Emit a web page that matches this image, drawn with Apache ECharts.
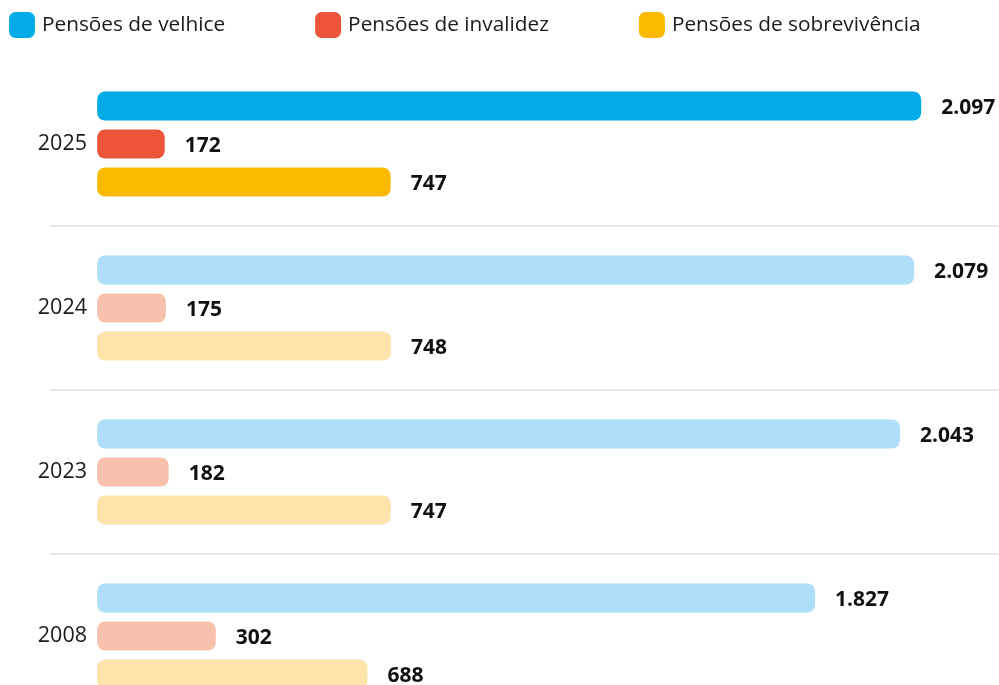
<!DOCTYPE html>
<html>
<head>
<meta charset="utf-8">
<script src="https://cdn.jsdelivr.net/npm/echarts@6/dist/echarts.min.js"></script>
<style>
  html, body { margin: 0; padding: 0; background: #fff; overflow: hidden; }
  #chart { width: 999px; height: 720px; }
</style>
</head>
<body>
<div id="chart"></div>
<script>
const categories = ['2025', '2024', '2023', '2008'];
const velhice = [2097, 2079, 2043, 1827];
const invalidez = [172, 175, 182, 302];
const sobrevivencia = [747, 748, 747, 688];
const seriesNames = ['Pensões de velhice', 'Pensões de invalidez', 'Pensões de sobrevivência'];

const strong = ['#00ABE7', '#EC553A', '#FBBA00'];
const light = ['#AEDEF9', '#F8C1AE', '#FEE3AB'];

function fmt(v) {
  return String(v).replace(/\B(?=(\d{3})+(?!\d))/g, '.');
}

function makeData(values, idx) {
  return values.map((v, i) => ({
    value: v,
    itemStyle: { color: i === 0 ? strong[idx] : light[idx] }
  }));
}

const FONT = '"Open Sans", "Noto Sans", sans-serif';
const chart = echarts.init(document.getElementById('chart'), null, { renderer: 'canvas' });

const allValues = [velhice, invalidez, sobrevivencia];
chart.setOption({
  animation: false,
  textStyle: { fontFamily: FONT },
  legend: {
    left: 4,
    top: 7,
    itemWidth: 26,
    itemHeight: 26,
    itemGap: 90,
    icon: 'roundRect',
    textStyle: { fontFamily: FONT, fontSize: 20.8, color: '#1a1a1a', padding: [2, 0, 0, 2] },
    data: seriesNames
  },
  grid: { left: 50, right: 0, top: 62, height: 656, containLabel: false, outerBoundsMode: 'none' },
  xAxis: {
    type: 'value',
    min: -120,
    max: 2295,
    show: false
  },
  yAxis: {
    type: 'category',
    inverse: true,
    data: categories,
    axisLine: { show: false },
    axisTick: { show: false },
    axisLabel: { fontFamily: FONT, fontSize: 21.5, color: '#1a1a1a', margin: -37, padding: [4, 0, 0, 0] },
    splitLine: { show: true, showMinLine: false, showMaxLine: false, lineStyle: { color: '#e2e2e2', width: 1.5 } }
  },
  series: seriesNames.map((name, idx) => ({
    name: name,
    type: 'bar',
    barWidth: 29,
    barGap: '31%',
    itemStyle: { color: strong[idx], borderRadius: 8 },
    label: {
      show: true,
      position: 'right',
      distance: 20,
      offset: [0, 2],
      fontFamily: FONT,
      fontSize: 21,
      fontWeight: 'bold',
      color: '#111',
      formatter: p => fmt(p.value)
    },
    data: makeData(allValues[idx], idx)
  }))
});
</script>
</body>
</html>
